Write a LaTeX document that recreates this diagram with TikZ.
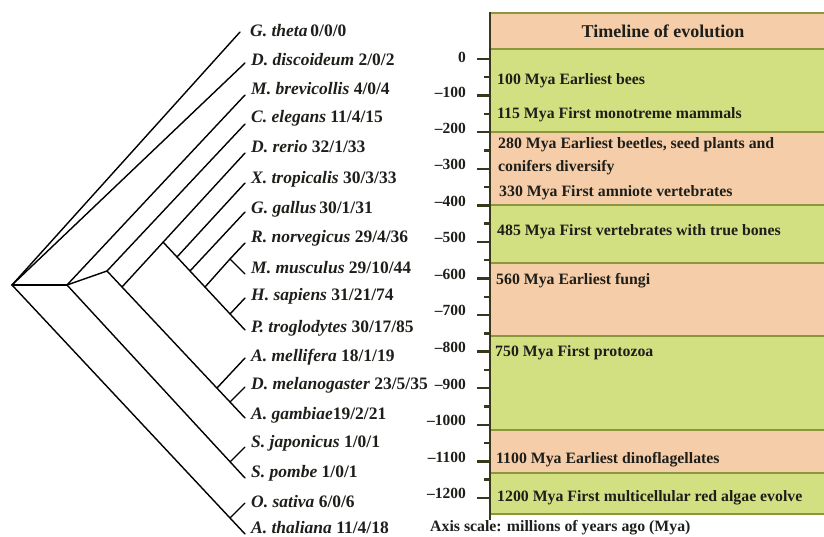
\documentclass[tikz,border=0pt]{standalone}
\usepackage{fontspec}
\setmainfont{Liberation Serif}
\definecolor{peach}{RGB}{245,205,168}
\definecolor{leaf}{RGB}{210,224,130}
\definecolor{olive}{RGB}{140,150,60}
\definecolor{axisc}{RGB}{55,55,28}
\definecolor{txt}{RGB}{30,30,26}
\tikzset{
  br/.style={line width=1.4pt, black, line cap=round},
  lab/.style={anchor=west, inner sep=0pt, text=txt, font=\bfseries\fontsize{17.5}{20}\selectfont},
  evt/.style={anchor=west, inner sep=0pt, text=txt, font=\bfseries\fontsize{15.8}{19}\selectfont},
  ticklab/.style={anchor=east, inner sep=0pt, text=txt, font=\bfseries\fontsize{15.5}{18}\selectfont},
  band/.style={draw=olive, line width=1.2pt},
  majtick/.style={line width=2.4pt, axisc},
  mintick/.style={line width=2.4pt, axisc}
}
\begin{document}
\begin{tikzpicture}[x=1pt,y=-1pt]
\useasboundingbox (0,0) rectangle (824,537);
% ---------------- tree coordinates ----------------
\coordinate (root) at (12,285);
\coordinate (n1) at (67,285);
\coordinate (n2) at (107,271);
\coordinate (n3) at (122,287);
\coordinate (n4) at (163,242);
\coordinate (nX) at (177,257);
\coordinate (nG) at (190,271);
\coordinate (nM) at (205,287);
\coordinate (nR) at (230,259);
\coordinate (nP) at (230,314);
\coordinate (nAm) at (217,388);
\coordinate (nDm) at (230,402);
\coordinate (nS) at (230,462);
\coordinate (nO) at (230,518);
% leaves
\coordinate (lGt) at (240,32);
\coordinate (lDd) at (245,63);
\coordinate (lMb) at (245,95);
\coordinate (lCe) at (245,124);
\coordinate (lDr) at (245,153);
\coordinate (lXt) at (245,183);
\coordinate (lGg) at (245,212);
\coordinate (lRn) at (245,243);
\coordinate (lMm) at (245,274);
\coordinate (lHs) at (245,298);
\coordinate (lPt) at (245,330);
\coordinate (lAm) at (245,358);
\coordinate (lDm) at (245,387);
\coordinate (lAg) at (245,418);
\coordinate (lSj) at (245,447);
\coordinate (lSp) at (245,478);
\coordinate (lOs) at (245,503);
\coordinate (lAt) at (245,534);
% branches
\draw[br] (root) -- (lGt);
\draw[br] (root) -- (lDd);
\draw[br] (root) -- (n1);
\draw[br] (root) -- (lAt);
\draw[br] (nO) -- (lOs);
\draw[br] (n1) -- (lMb);
\draw[br] (n1) -- (n2);
\draw[br] (n1) -- (lSp);
\draw[br] (nS) -- (lSj);
\draw[br] (n2) -- (lCe);
\draw[br] (n2) -- (lAg);
\draw[br] (nAm) -- (lAm);
\draw[br] (nDm) -- (lDm);
\draw[br] (n3) -- (lDr);
\draw[br] (n4) -- (lPt);
\draw[br] (nX) -- (lXt);
\draw[br] (nG) -- (lGg);
\draw[br] (nM) -- (nR);
\draw[br] (nR) -- (lRn);
\draw[br] (nR) -- (lMm);
\draw[br] (nP) -- (lHs);
% labels
\node[lab] (tGt) at (250,31) {\textit{G. theta}\,0/0/0};
\node[lab] (tDd) at (251,60) {\textit{D. discoideum} 2/0/2};
\node[lab] (tMb) at (251,89) {\textit{M. brevicollis} 4/0/4};
\node[lab] (tCe) at (251,118) {\textit{C. elegans} 11/4/15};
\node[lab] (tDr) at (251,147) {\textit{D. rerio} 32/1/33};
\node[lab] (tXt) at (251,179) {\textit{X. tropicalis} 30/3/33};
\node[lab] (tGg) at (251,209) {\textit{G. gallus}\,30/1/31};
\node[lab] (tRn) at (251,238) {\textit{R. norvegicus} 29/4/36};
\node[lab] (tMm) at (251,268) {\textit{M. musculus} 29/10/44};
\node[lab] (tHs) at (251,296) {\textit{H. sapiens} 31/21/74};
\node[lab] (tPt) at (251,328) {\textit{P. troglodytes} 30/17/85};
\node[lab] (tAm) at (251,357) {\textit{A. mellifera} 18/1/19};
\node[lab] (tDm) at (251,385) {\textit{D. melanogaster} 23/5/35};
\node[lab] (tAg) at (251,415) {\textit{A. gambiae}19/2/21};
\node[lab] (tSj) at (251,443) {\textit{S. japonicus} 1/0/1};
\node[lab] (tSp) at (251,473) {\textit{S. pombe} 1/0/1};
\node[lab] (tOs) at (251,502) {\textit{O. sativa} 6/0/6};
\node[lab] (tAt) at (251,527.5) {\textit{A. thaliana} 11/4/18};
% ---------------- timeline bands ----------------
\fill[peach] (490,13) rectangle (826,49);
\fill[leaf] (490,49) rectangle (826,132);
\fill[peach] (490,132) rectangle (826,205);
\fill[leaf] (490,205) rectangle (826,263);
\fill[peach] (490,263) rectangle (826,336);
\fill[leaf] (490,336) rectangle (826,430);
\fill[peach] (490,430) rectangle (826,473);
\fill[leaf] (490,473) rectangle (826,514);
\foreach \yy in {13,49,132,205,263,336,430,473,514}
  \draw[band] (490,\yy) -- (826,\yy);
% axis
\draw[line width=2.6pt, axisc] (490,12) -- (490,520);
\foreach \k in {0,...,12}{
  \draw[majtick] (477,{59+36.58*\k}) -- (490,{59+36.58*\k});
}
\foreach \k in {0,...,11}{
  \draw[mintick] (484,{77.3+36.58*\k}) -- (490,{77.3+36.58*\k});
}
\node[ticklab] (a0) at (466,57) {0};
\node[ticklab] (a1) at (466,92.5) {--100};
\node[ticklab] (a2) at (466,128) {--200};
\node[ticklab] (a3) at (466,164.5) {--300};
\node[ticklab] (a4) at (466,201) {--400};
\node[ticklab] (a5) at (466,237.5) {--500};
\node[ticklab] (a6) at (466,274) {--600};
\node[ticklab] (a7) at (466,310.5) {--700};
\node[ticklab] (a8) at (466,347) {--800};
\node[ticklab] (a9) at (466,384) {--900};
\node[ticklab] (a10) at (466,420.5) {--1000};
\node[ticklab] (a11) at (466,457) {--1100};
\node[ticklab] (a12) at (466,493.5) {--1200};
% texts
\node[anchor=center, inner sep=0pt, text=txt, font=\bfseries\fontsize{18}{21}\selectfont] (title) at (663,31) {Timeline of evolution};
\node[evt] (e1) at (497,81) {100 Mya Earliest bees};
\node[evt] (e2) at (497,115) {115 Mya First monotreme mammals};
\node[evt] (e3) at (498,145) {280 Mya Earliest beetles, seed plants and};
\node[evt] (e3b) at (498,168) {conifers diversify};
\node[evt] (e4) at (499,193) {330 Mya First amniote vertebrates};
\node[evt] (e5) at (497,232) {485 Mya First vertebrates with true bones};
\node[evt] (e6) at (496,281) {560 Mya Earliest fungi};
\node[evt] (e7) at (495,353) {750 Mya First protozoa};
\node[evt] (e8) at (496,460) {1100 Mya Earliest dinoflagellates};
\node[evt] (e9) at (497,498) {1200 Mya First multicellular red algae evolve};
\node[evt] (axn) at (430,528) {Axis scale: millions of years ago (Mya)};
\end{tikzpicture}
\end{document}
